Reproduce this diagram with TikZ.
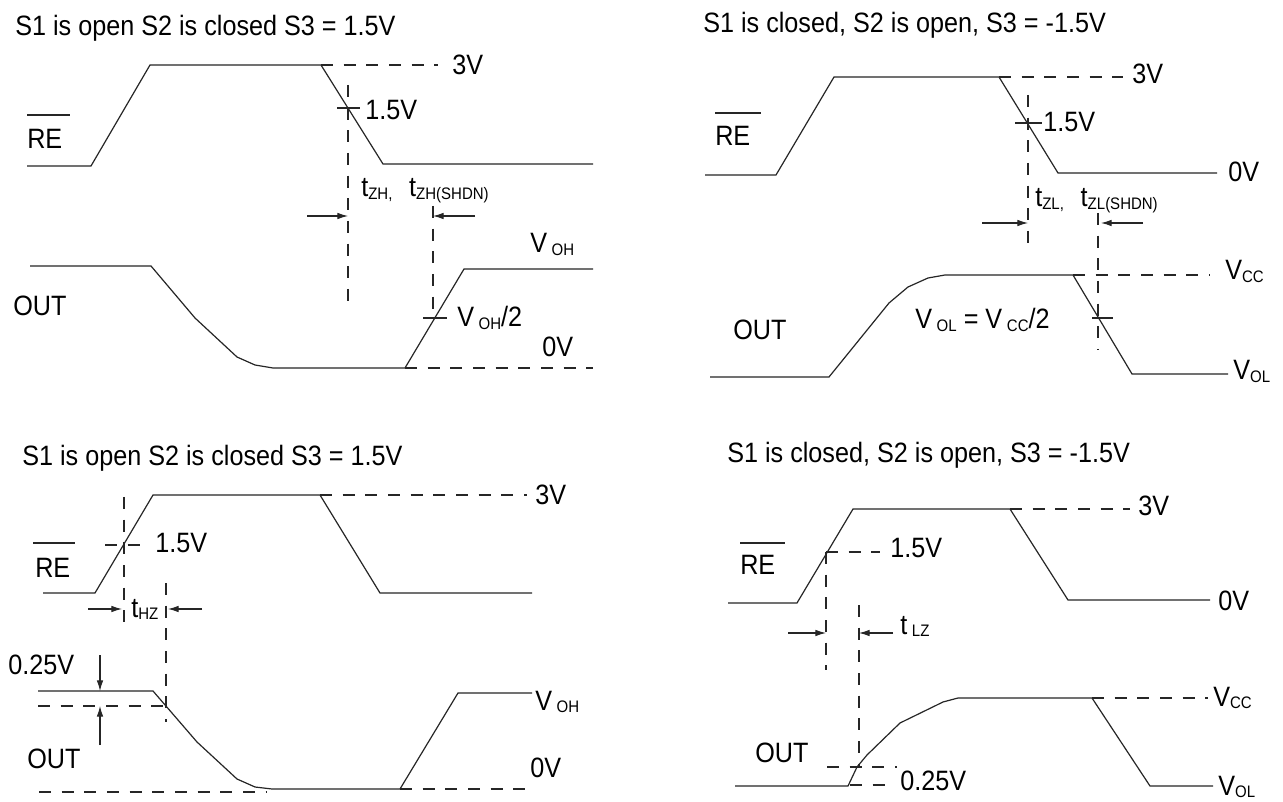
\documentclass[tikz,border=0pt]{standalone}
\usepackage{fontspec}
\setmainfont{Liberation Sans}[FakeStretch=0.9]
\usetikzlibrary{arrows.meta}
\newcommand{\subtx}[1]{\raisebox{-0.1em}{\fontsize{12.5}{13}\selectfont #1}}
\begin{document}
\begin{tikzpicture}[x=0.75pt,y=-0.75pt,
  wave/.style={line width=0.9pt, black!85},
  dsh/.style={line width=0.9pt, black!85, dash pattern=on 9pt off 8pt},
  arr/.style={line width=0.9pt, black!85, -{Latex[length=8pt,width=5pt]}},
  lbl/.style={anchor=base west, inner sep=0pt, font=\fontsize{21}{24}\selectfont}]
\useasboundingbox (0,0) rectangle (1283,802);
\fill[white] (0,0) rectangle (1283,802);

% ---------------- Panel 1 ----------------
\node[lbl] (t1) at (15,36) {S1 is open S2 is closed S3 = 1.5V};
\draw[wave] (27,166) -- (91,166) -- (150,65) -- (321,65) -- (383,164) -- (593,164);
\draw[dsh] (321,65) -- (438,65);
\node[lbl] (p1a) at (452,75) {3V};
\draw[dsh] (348,85) -- (348,307);
\draw[wave] (337,108) -- (360,108);
\node[lbl] (p1b) at (365,120) {1.5V};
\draw[wave] (27,115) -- (70,115);
\node[lbl] (p1re) at (27,149) {RE};
\node[lbl] (p1t) at (361,197) {t\subtx{ZH,}\hspace{0.6em}t\subtx{ZH(SHDN)}};
\draw[arr] (307,216) -- (348,216);
\draw[arr] (475,216) -- (433,216);
\draw[dsh] (433,206) -- (433,318);
\draw[wave] (30,266) -- (151,266) -- (195,318) -- (237,357) -- (255,365) -- (273,368) -- (405,368) -- (464,269) -- (593,269);
\draw[dsh] (405,368) -- (593,368);
\draw[wave] (423,318) -- (447,318);
\node[lbl] (p1c) at (530,253) {V\,\subtx{OH}};
\node[lbl] (p1d) at (457,327) {V\,\subtx{OH}/2};
\node[lbl] (p1e) at (542,357) {0V};
\node[lbl] (p1out) at (13,316) {OUT};

% ---------------- Panel 2 ----------------
\node[lbl] (t2) at (703,33) {S1 is closed, S2 is open, S3 = -1.5V};
\draw[wave] (705,175) -- (776,175) -- (834,77) -- (999,77) -- (1058,173) -- (1217,173);
\draw[dsh] (999,77) -- (1123,77);
\node[lbl] (p2a) at (1132,84) {3V};
\draw[dsh] (1028,95) -- (1028,243);
\draw[wave] (1015,123) -- (1042,123);
\node[lbl] (p2b) at (1043,132) {1.5V};
\node[lbl] (p2c) at (1228,182) {0V};
\draw[wave] (715,113) -- (761,113);
\node[lbl] (p2re) at (715,146) {RE};
\node[lbl] (p2t) at (1035,207) {t\subtx{ZL,}\hspace{0.6em}t\subtx{ZL(SHDN)}};
\draw[arr] (982,223) -- (1028,223);
\draw[arr] (1143,223) -- (1101,223);
\draw[dsh] (1098,213) -- (1098,350);
\draw[wave] (710,377) -- (829,377) -- (889,303) -- (908,287) -- (928,278) -- (945,275) -- (1073,275) -- (1132,374) -- (1228,374);
\draw[dsh] (1073,275) -- (1210,275);
\draw[wave] (1092,318) -- (1113,318);
\node[lbl] (p2d) at (1225,280) {V\subtx{CC}};
\node[lbl] (p2e) at (1233,380) {V\subtx{OL}};
\node[lbl] (p2f) at (915,329) {V\,\subtx{OL} = V\,\subtx{CC}/2};
\node[lbl] (p2out) at (733,340) {OUT};

% ---------------- Panel 3 ----------------
\node[lbl] (t3) at (22,465) {S1 is open S2 is closed S3 = 1.5V};
\draw[wave] (43,593) -- (95,593) -- (153,495) -- (320,495) -- (380,593) -- (532,593);
\draw[dsh] (320,495) -- (527,495);
\node[lbl] (p3a) at (535,504) {3V};
\draw[dsh] (105,545) -- (145,545);
\node[lbl] (p3b) at (155,552) {1.5V};
\draw[wave] (33,543) -- (75,543);
\node[lbl] (p3re) at (35,577) {RE};
\draw[dsh] (124,497) -- (124,622);
\draw[dsh] (166,583) -- (166,722);
\draw[arr] (88,609) -- (122,609);
\draw[arr] (202,609) -- (168,609);
\node[lbl] (p3t) at (131,617) {t\subtx{HZ}};
\draw[wave] (38,691) -- (153,691) -- (197,742) -- (237,779) -- (255,787) -- (272,789) -- (400,789) -- (458,693) -- (532,693);
\draw[dsh] (400,789) -- (530,789);
\draw[dsh] (39,792) -- (267,792);
\draw[dsh] (38,706) -- (167,706);
\draw[arr] (100,655) -- (100,691);
\draw[arr] (100,745) -- (100,706);
\node[lbl] (p3c) at (8,674) {0.25V};
\node[lbl] (p3out) at (27,768) {OUT};
\node[lbl] (p3d) at (535,710) {V\,\subtx{OH}};
\node[lbl] (p3e) at (530,777) {0V};

% ---------------- Panel 4 ----------------
\node[lbl] (t4) at (727,463) {S1 is closed, S2 is open, S3 = -1.5V};
\draw[wave] (728,603) -- (797,603) -- (853,509) -- (1010,509) -- (1068,600) -- (1210,600);
\draw[dsh] (1010,509) -- (1130,509);
\node[lbl] (p4a) at (1138,516) {3V};
\node[lbl] (p4b) at (1218,610) {0V};
\draw[dsh] (826,552) -- (880,552);
\node[lbl] (p4c) at (890,557) {1.5V};
\draw[wave] (740,543) -- (785,543);
\node[lbl] (p4re) at (740,575) {RE};
\draw[dsh] (826,552) -- (826,670);
\draw[dsh] (859,605) -- (859,767);
\draw[arr] (788,633) -- (826,633);
\draw[arr] (893,633) -- (859,633);
\node[lbl] (p4t) at (900,634) {t\,\subtx{LZ}};
\draw[wave] (735,786) -- (848,786) -- (857,767) -- (867,755) -- (900,723) -- (943,702) -- (958,698) -- (1092,698) -- (1150,786) -- (1213,786);
\draw[dsh] (1092,698) -- (1208,698);
\draw[dsh] (827,767) -- (897,767);
\draw[dsh] (850,785) -- (893,785);
\node[lbl] (p4d) at (900,790) {0.25V};
\node[lbl] (p4out) at (755,762) {OUT};
\node[lbl] (p4e) at (1213,706) {V\subtx{CC}};
\node[lbl] (p4f) at (1218,795) {V\subtx{OL}};
\end{tikzpicture}
\end{document}
